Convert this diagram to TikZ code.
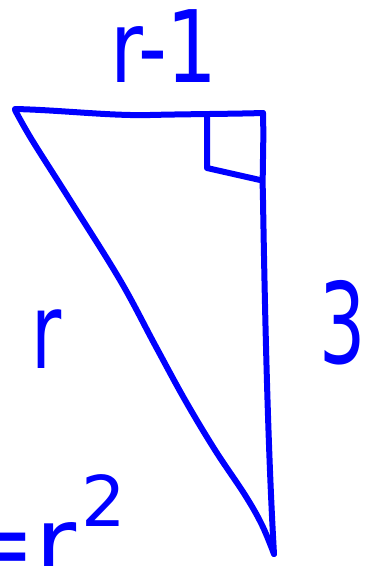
\documentclass[tikz,border=0pt]{standalone}
\usepackage{fontspec}
\setmainfont{DejaVu Sans}
\definecolor{pen}{RGB}{0,0,255}
\tikzset{
  ink/.style={draw=pen, line width=6pt, line cap=round, line join=round},
  hand/.style={text=pen, inner sep=0pt, outer sep=0pt}
}
\begin{document}
\begin{tikzpicture}[x=1pt,y=-1pt]
\useasboundingbox (0,0) rectangle (368,566);
\clip (0,0) rectangle (368,566);
% triangle
\coordinate (A) at (15,109);
\coordinate (B) at (263,113);
\coordinate (C) at (274,554);
\draw[ink] (A) .. controls (60,110) and (110,116) .. (150,115)
  .. controls (190,114) and (230,114) .. (B);
\draw[ink] (B) .. controls (264,150) and (262,170) .. (263,200)
  .. controls (265,320) and (268,450) .. (C);
\draw[ink] plot[smooth, tension=0.6] coordinates {(15,110) (32,140) (70,200) (120,280) (155,345) (185,400) (215,450) (245,495) (262,525) (274,554)};
% right angle mark
\draw[ink] (207,116) -- (207,168) -- (260,180);
% labels
\node[hand, anchor=base, xscale=0.8, font=\fontsize{100}{100}\selectfont] (top) at (164,82) {r-1};
\node[hand, anchor=base, xscale=0.7, font=\fontsize{105}{105}\selectfont] (left) at (47,368) {r};
\node[hand, anchor=base, xscale=0.65, font=\fontsize{112}{112}\selectfont] (right) at (343,363) {3};
\node[hand, anchor=base west, font=\fontsize{100}{100}\selectfont] (eq) at (-48,578) {=r};
\node[hand, anchor=base, font=\fontsize{70}{70}\selectfont] (sq) at (104,526) {2};
\end{tikzpicture}
\end{document}
